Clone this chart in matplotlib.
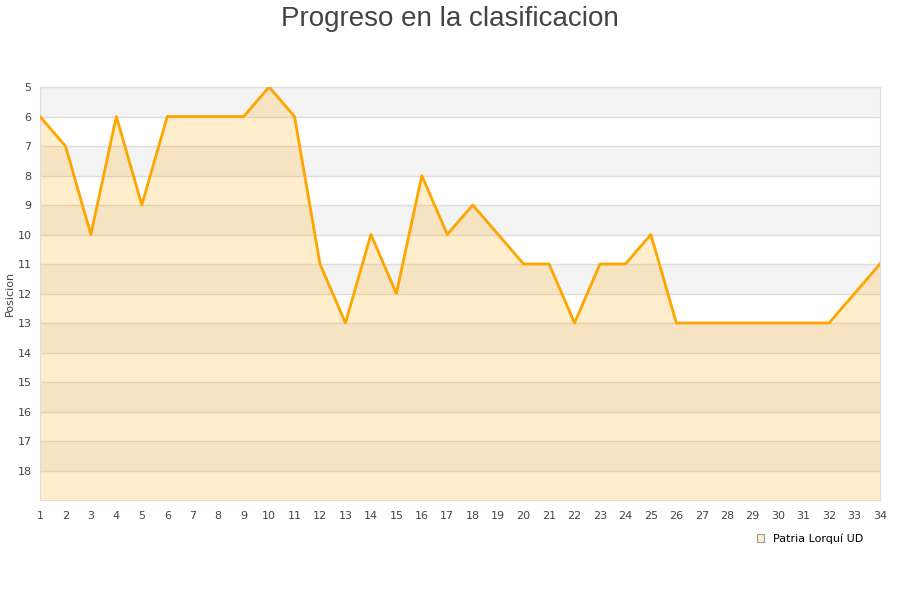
import numpy as np
import matplotlib.pyplot as plt
from matplotlib.patches import Patch

jornadas = list(range(1, 35))
posicion = [6, 7, 10, 6, 9, 6, 6, 6, 6, 5, 6, 11, 13, 10, 12, 8, 10, 9, 10, 11,
            11, 13, 11, 11, 10, 13, 13, 13, 13, 13, 13, 13, 12, 11]
equipo = "Patria Lorquí UD"

fig = plt.figure(figsize=(9, 6), dpi=100)
ax = fig.add_axes([40 / 900, 100 / 600, 840 / 900, 413 / 600])

# alternating bands
for n in range(5, 19):
    if n % 2 == 1:
        ax.axhspan(n, n + 1, color='#f3f3f3', zorder=0, lw=0)
    ax.axhline(n, color='#dddddd', lw=1, zorder=1)

ax.fill_between(jornadas, posicion, 19, color='#ffa500', alpha=0.2, lw=0, zorder=2)
ax.plot(jornadas, posicion, color='#ffa500', lw=2, zorder=3)

ax.set_xlim(1, 34)
ax.set_ylim(19, 5)
ax.set_xticks(jornadas)
ax.set_yticks(range(5, 19))
ax.tick_params(length=0, labelsize=8, colors='#444444', pad=8)
ax.tick_params(axis='y', pad=6)
for s in ax.spines.values():
    s.set_color('#dddddd')

ax.set_ylabel("Posicion", fontsize=8, color='#444444')
ax.yaxis.set_label_coords(-25 / 840, 0.5)
fig.text(0.5, 0.99, "Progreso en la clasificacion", ha='center', va='top',
         fontsize=20, color='#444444', family='Liberation Sans')

handle = Patch(facecolor='#ffeecc', edgecolor='#999999', lw=0.8)
fig.legend([handle], [equipo], loc='center', bbox_to_anchor=(810 / 900, 1 - 539 / 600),
           frameon=False, fontsize=8, handlelength=0.7, handleheight=0.7,
           handletextpad=0.8)

fig.savefig("out.png")
